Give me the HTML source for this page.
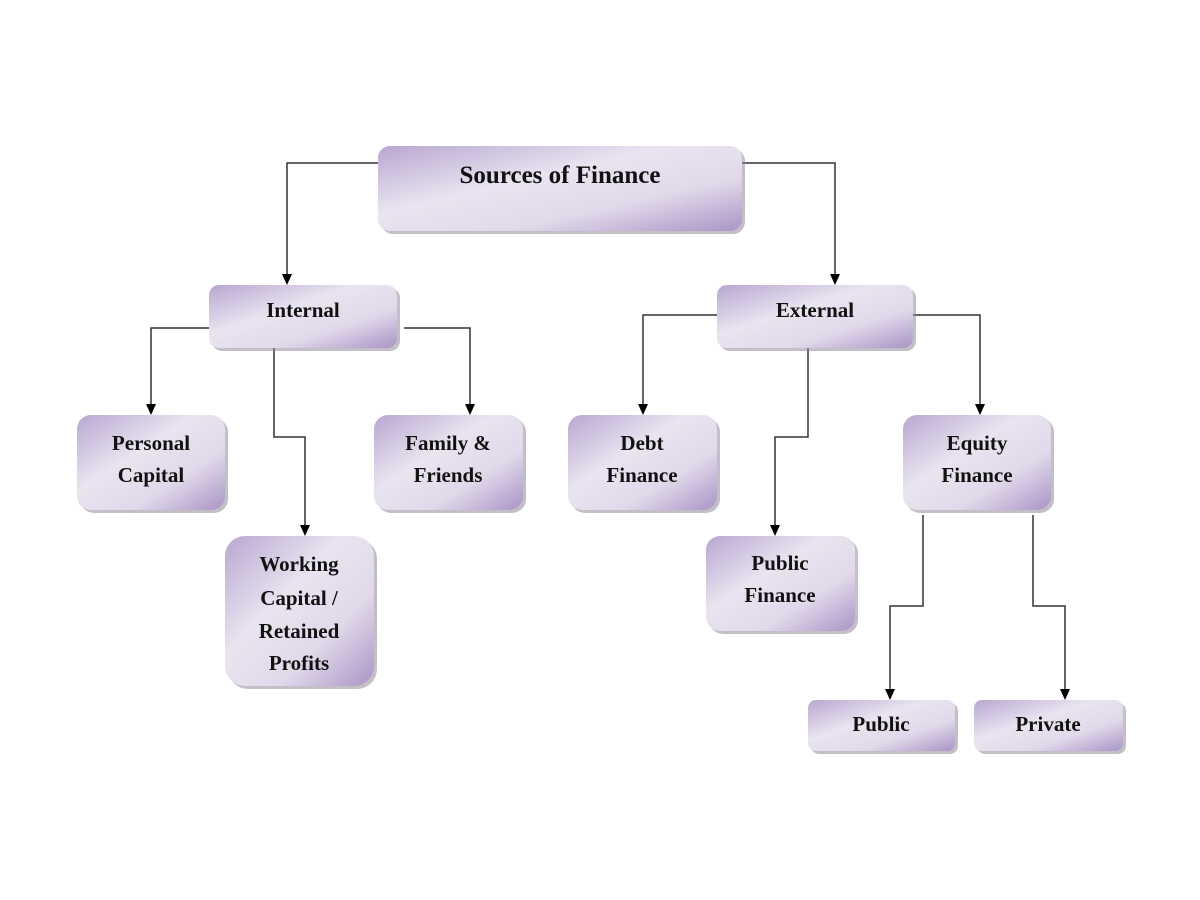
<!DOCTYPE html>
<html><head><meta charset="utf-8"><style>html,body{margin:0;padding:0;background:#fff}svg{display:block}</style></head>
<body>
<svg width="1200" height="900" viewBox="0 0 1200 900" xmlns="http://www.w3.org/2000/svg">
<defs>
<linearGradient id="g" x1="0" y1="0" x2="1" y2="1">
<stop offset="0" stop-color="#b8a7d0"/>
<stop offset="0.4" stop-color="#e9e4f0"/>
<stop offset="0.68" stop-color="#e1d9ea"/>
<stop offset="1" stop-color="#a994c6"/>
</linearGradient>
</defs>
<g fill="none" stroke="#333" stroke-width="1.5">
<polyline points="378,163 287,163 287,276"/>
<polyline points="742,163 835,163 835,276"/>
<polyline points="209,328 151,328 151,406"/>
<polyline points="274,348 274,437 305,437 305,527"/>
<polyline points="404,328 470,328 470,406"/>
<polyline points="717,315 643,315 643,406"/>
<polyline points="808,348 808,437 775,437 775,527"/>
<polyline points="905,315 980,315 980,406"/>
<polyline points="923,515 923,606 890,606 890,691"/>
<polyline points="1033,515 1033,606 1065,606 1065,691"/>
</g>
<g fill="#000">
<path d="M282,274 L292,274 L287,285 Z"/>
<path d="M830,274 L840,274 L835,285 Z"/>
<path d="M146,404 L156,404 L151,415 Z"/>
<path d="M300,525 L310,525 L305,536 Z"/>
<path d="M465,404 L475,404 L470,415 Z"/>
<path d="M638,404 L648,404 L643,415 Z"/>
<path d="M770,525 L780,525 L775,536 Z"/>
<path d="M975,404 L985,404 L980,415 Z"/>
<path d="M885,689 L895,689 L890,700 Z"/>
<path d="M1060,689 L1070,689 L1065,700 Z"/>
</g>
<g fill="#8f8a98" opacity="0.55">
<rect x="381" y="149" width="364" height="85" rx="12"/>
<rect x="212" y="288" width="188" height="63" rx="10"/>
<rect x="720" y="288" width="196" height="63" rx="10"/>
<rect x="80" y="418" width="148" height="95" rx="14"/>
<rect x="228" y="539" width="149" height="150" rx="20"/>
<rect x="377" y="418" width="149" height="95" rx="14"/>
<rect x="571" y="418" width="149" height="95" rx="14"/>
<rect x="709" y="539" width="149" height="95" rx="14"/>
<rect x="906" y="418" width="148" height="95" rx="14"/>
<rect x="811" y="703" width="147" height="51" rx="8"/>
<rect x="977" y="703" width="149" height="51" rx="8"/>
</g>
<g fill="url(#g)">
<rect x="378" y="146" width="364" height="85" rx="12"/>
<rect x="209" y="285" width="188" height="63" rx="10"/>
<rect x="717" y="285" width="196" height="63" rx="10"/>
<rect x="77" y="415" width="148" height="95" rx="14"/>
<rect x="225" y="536" width="149" height="150" rx="20"/>
<rect x="374" y="415" width="149" height="95" rx="14"/>
<rect x="568" y="415" width="149" height="95" rx="14"/>
<rect x="706" y="536" width="149" height="95" rx="14"/>
<rect x="903" y="415" width="148" height="95" rx="14"/>
<rect x="808" y="700" width="147" height="51" rx="8"/>
<rect x="974" y="700" width="149" height="51" rx="8"/>
</g>
<g font-family="Liberation Serif, serif" font-weight="bold" fill="#111" text-anchor="middle" font-size="21">
<text x="560" y="183" font-size="25">Sources of Finance</text>
<text x="303" y="317">Internal</text>
<text x="815" y="317">External</text>
<text x="151" y="450">Personal</text><text x="151" y="482">Capital</text>
<text x="299" y="571">Working</text><text x="299" y="605">Capital /</text><text x="299" y="638">Retained</text><text x="299" y="670">Profits</text>
<text x="448" y="450">Family &amp;</text><text x="448" y="482">Friends</text>
<text x="642" y="450">Debt</text><text x="642" y="482">Finance</text>
<text x="780" y="570">Public</text><text x="780" y="602">Finance</text>
<text x="977" y="450">Equity</text><text x="977" y="482">Finance</text>
<text x="881" y="731">Public</text>
<text x="1048" y="731">Private</text>
</g>
</svg>
</body></html>
